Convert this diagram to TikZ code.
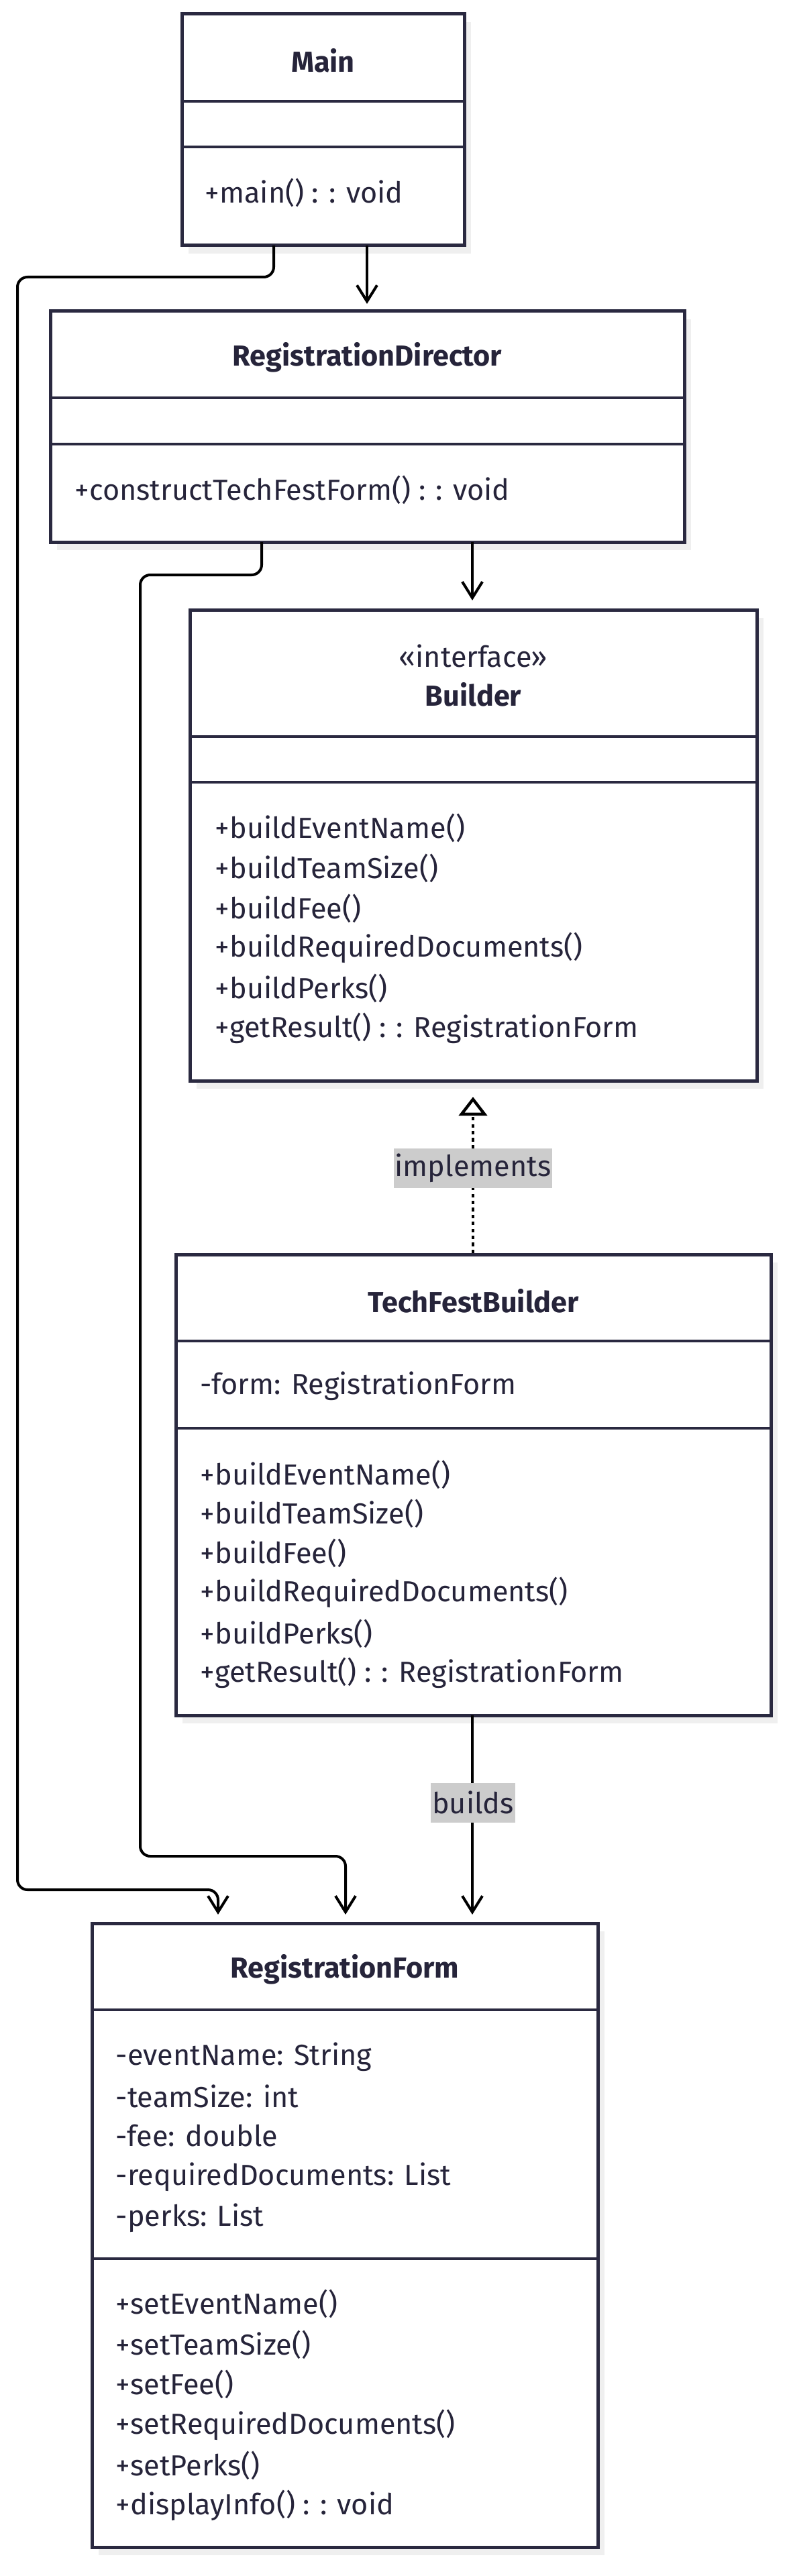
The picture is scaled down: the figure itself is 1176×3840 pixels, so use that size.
\documentclass[tikz,border=0pt]{standalone}
\usepackage{fontspec}
\setmainfont{Fira Sans}
\usetikzlibrary{arrows.meta}
\definecolor{ink}{RGB}{38,36,58}
\definecolor{edge}{RGB}{42,41,64}
\definecolor{shadowc}{RGB}{239,239,239}
\definecolor{lblbg}{RGB}{204,204,204}
\newcommand\classbox[5]{%
  \fill[shadowc] (#2+10,#3+12) rectangle (#4+10,#5+12);
  \node[boxshape, minimum width={(#4-#2)*0.25pt}, minimum height={(#5-#3)*0.25pt}] (#1) at ({(#2+#4)/2},{(#3+#5)/2}) {};
}
\begin{document}
\begin{tikzpicture}[x=0.25pt,y=-0.25pt,
  boxshape/.style={draw=edge, fill=white, line width=1.25pt, inner sep=0pt, outer sep=0pt},
  sepline/.style={draw=edge, line width=1.15pt},
  txt/.style={text=ink, inner sep=0pt, anchor=west, font=\fontsize{10.8pt}{12.5pt}\selectfont},
  ttl/.style={text=ink, inner sep=0pt, font=\fontsize{10.8pt}{12.5pt}\selectfont\bfseries},
  conn/.style={draw=black, line width=1pt, rounded corners=3.75pt, -{Straight Barb[length=6pt,width=7.5pt,line width=1pt]}},
  impl/.style={draw=black, line width=1.05pt, dash pattern=on 1.3pt off 1.3pt, -{Triangle[open,length=7pt,width=10.5pt,line width=1.1pt,fill=white]}},
  lbl/.style={fill=lblbg, text=ink, inner xsep=0.5pt, inner ysep=0pt, minimum height=14.75pt, font=\fontsize{10.8pt}{12.5pt}\selectfont},
]
\useasboundingbox (0,0) rectangle (1176,3840);

% ---- Main ----
\classbox{main}{271}{21}{692}{366}
\draw[sepline] (271,151) -- (692,151);
\draw[sepline] (271,219) -- (692,219);
\node[ttl] (mainT) at (481.5,90) {Main};
\node[txt] (mainM1) at (305,287) {+main() : : void};

% ---- RegistrationDirector ----
\classbox{rd}{75}{464}{1020}{808}
\draw[sepline] (75,593) -- (1020,593);
\draw[sepline] (75,662) -- (1020,662);
\node[ttl] (rdT) at (547.5,533) {RegistrationDirector};
\node[txt] (rdM1) at (111,730) {+constructTechFestForm() : : void};

% ---- Builder ----
\classbox{bld}{283}{909}{1128}{1611}
\draw[sepline] (283,1098) -- (1128,1098);
\draw[sepline] (283,1166) -- (1128,1166);
\node[text=ink, inner sep=0pt, font=\fontsize{10.8pt}{12.5pt}\selectfont] (bldS) at (705.5,978) {«interface»};
\node[ttl] (bldT) at (705.5,1035) {Builder};
\node[txt] (bldM1) at (320,1234) {+buildEventName()};
\node[txt] (bldM2) at (320,1294) {+buildTeamSize()};
\node[txt] (bldM3) at (320,1354) {+buildFee()};
\node[txt] (bldM4) at (320,1413) {+buildRequiredDocuments()};
\node[txt] (bldM5) at (320,1473) {+buildPerks()};
\node[txt] (bldM6) at (320,1533) {+getResult() : : RegistrationForm};

% ---- TechFestBuilder ----
\classbox{tfb}{262}{1870}{1149}{2557}
\draw[sepline] (262,1999) -- (1149,1999);
\draw[sepline] (262,2129) -- (1149,2129);
\node[ttl] (tfbT) at (705.5,1939) {TechFestBuilder};
\node[txt] (tfbF1) at (298,2066) {-form: RegistrationForm};
\node[txt] (tfbM1) at (298,2198) {+buildEventName()};
\node[txt] (tfbM2) at (298,2256) {+buildTeamSize()};
\node[txt] (tfbM3) at (298,2315) {+buildFee()};
\node[txt] (tfbM4) at (298,2374) {+buildRequiredDocuments()};
\node[txt] (tfbM5) at (298,2435) {+buildPerks()};
\node[txt] (tfbM6) at (298,2494) {+getResult() : : RegistrationForm};

% ---- RegistrationForm ----
\classbox{rf}{137}{2867}{891}{3797}
\draw[sepline] (137,2996) -- (891,2996);
\draw[sepline] (137,3367) -- (891,3367);
\node[ttl] (rfT) at (514,2936) {RegistrationForm};
\node[txt] (rfF1) at (172,3066) {-eventName: String};
\node[txt] (rfF2) at (172,3125) {-teamSize: int};
\node[txt] (rfF3) at (172,3184) {-fee: double};
\node[txt] (rfF4) at (172,3245) {-requiredDocuments: List};
\node[txt] (rfF5) at (172,3306) {-perks: List};
\node[txt] (rfM1) at (172,3434) {+setEventName()};
\node[txt] (rfM2) at (172,3495) {+setTeamSize()};
\node[txt] (rfM3) at (172,3554) {+setFee()};
\node[txt] (rfM4) at (172,3615) {+setRequiredDocuments()};
\node[txt] (rfM5) at (172,3675) {+setPerks()};
\node[txt] (rfM6) at (172,3735) {+displayInfo() : : void};

% ---- connector coordinates ----
\coordinate (mA) at (547,366);   \coordinate (mB) at (547,453);
\coordinate (rA) at (704,808);   \coordinate (rB) at (704,895);
\coordinate (tA) at (705,1868);  \coordinate (tB) at (705,1635);
\coordinate (bA) at (704,2557);  \coordinate (bB) at (704,2854);
\coordinate (c5a) at (408,366); \coordinate (c5b) at (408,413); \coordinate (c5c) at (26,413);
\coordinate (c5d) at (26,2817); \coordinate (c5e) at (325,2817); \coordinate (c5f) at (325,2854);
\coordinate (c6a) at (390,808); \coordinate (c6b) at (390,857); \coordinate (c6c) at (209,857);
\coordinate (c6d) at (209,2767); \coordinate (c6e) at (515,2767); \coordinate (c6f) at (515,2854);

\draw[conn] (mA) -- (mB);
\draw[conn] (rA) -- (rB);
\draw[impl] (tA) -- (tB);
\draw[conn] (bA) -- (bB);
\draw[conn] (c5a) -- (c5b) -- (c5c) -- (c5d) -- (c5e) -- (c5f);
\draw[conn] (c6a) -- (c6b) -- (c6c) -- (c6d) -- (c6e) -- (c6f);

\node[lbl] (implL) at (705,1741) {implements};
\node[lbl] (buildsL) at (705,2687) {builds};
\end{tikzpicture}
\end{document}
